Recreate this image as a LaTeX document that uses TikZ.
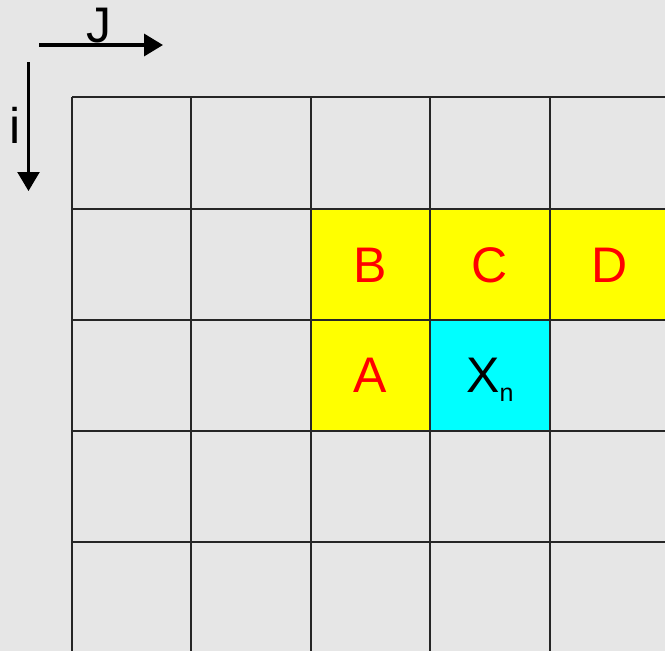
\documentclass[tikz,border=0pt]{standalone}
\usepackage{fontspec}
\setmainfont{Liberation Sans}
\usetikzlibrary{arrows.meta}
\definecolor{bg}{HTML}{E6E6E6}
\definecolor{cellyellow}{HTML}{FFFF00}
\definecolor{cellcyan}{HTML}{00FFFF}
\definecolor{lettred}{HTML}{FF0000}
\tikzset{
  gridline/.style={line width=1.4pt, draw=black!85},
  letter/.style={inner sep=0pt, anchor=base, font=\fontsize{50}{60}\selectfont},
  redletter/.style={letter, text=lettred},
  axisarrow/.style={-{Triangle[length=19pt,width=22pt]}},
}
\begin{document}
\begin{tikzpicture}[x=1pt,y=-1pt]
\fill[bg] (0,0) rectangle (665,651);
\useasboundingbox (0,0) rectangle (665,651);
% coloured cells
\fill[cellyellow] (311,209) rectangle (430,320);
\fill[cellyellow] (430,209) rectangle (550,320);
\fill[cellyellow] (550,209) rectangle (665,320);
\fill[cellyellow] (311,320) rectangle (430,431);
\fill[cellcyan] (430,320) rectangle (550,431);
% grid
\foreach \x in {72,191,311,430,550} \draw[gridline] (\x,97) -- (\x,651);
\foreach \y in {97,209,320,431,542} \draw[gridline] (72,\y) -- (665,\y);
% letters
\node[redletter] (B) at (370.5,282.5) {B};
\node[redletter] (C) at (490,282.5) {C};
\node[redletter] (D) at (609.5,282.5) {D};
\node[redletter] (A) at (370.5,392.5) {A};
\node[letter] (X) at (490,392) {X\raisebox{-9.5pt}{\fontsize{25}{30}\selectfont n}};
% axes
\coordinate (jstart) at (39,45);
\coordinate (jend) at (163,45);
\coordinate (istart) at (28.5,62);
\coordinate (iend) at (28.5,191);
\draw[axisarrow, line width=3.5pt] (jstart) -- (jend);
\draw[axisarrow, line width=2.4pt] (istart) -- (iend);
\node[letter] (J) at (99,42.5) {J};
\node[letter] (i) at (15,143) {i};
\end{tikzpicture}
\end{document}
